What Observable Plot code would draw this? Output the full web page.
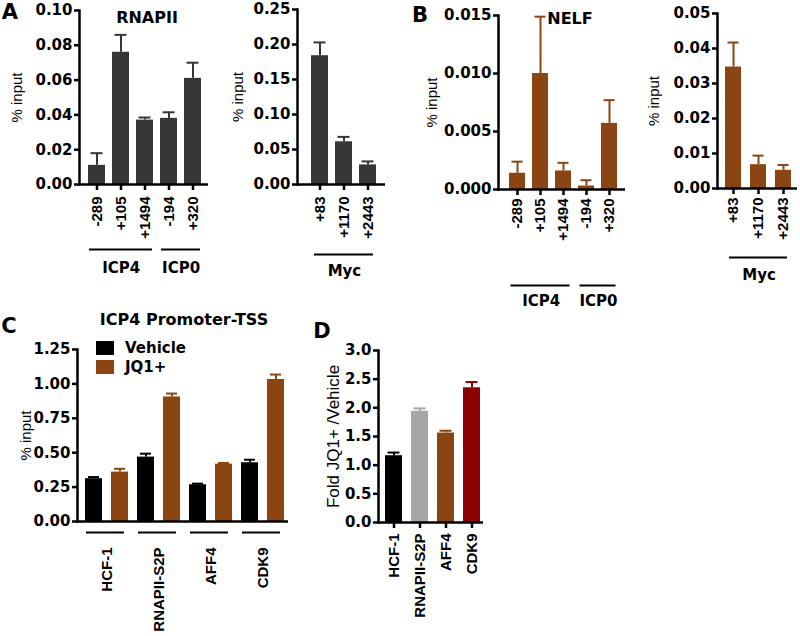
<!DOCTYPE html>
<html><head><meta charset="utf-8">
<script src="https://cdn.jsdelivr.net/npm/d3@7"></script>
<script src="https://cdn.jsdelivr.net/npm/@observablehq/plot@0.6"></script>
<style>
body{margin:0;background:#fff;}
#root{position:relative;width:800px;height:636px;overflow:hidden;background:#fff;}
#root svg{position:absolute;}
</style></head>
<body><div id="root"></div>
<script>
// ---------- DATA ----------
// Panel A (RNAPII)
const aCats = ["-289", "+105", "+1494", "-194", "+320"];
const aGenes = ["ICP4", "ICP4", "ICP4", "ICP0", "ICP0"];
const aVals = [0.011, 0.076, 0.037, 0.038, 0.061];
const aSems = [0.007, 0.010, 0.0015, 0.0035, 0.009];
const aMycCats = ["+83", "+1170", "+2443"];
const aMycGenes = ["Myc", "Myc", "Myc"];
const aMycVals = [0.184, 0.061, 0.028];
const aMycSems = [0.019, 0.007, 0.005];
// Panel B (NELF)
const bCats = ["-289", "+105", "+1494", "-194", "+320"];
const bGenes = ["ICP4", "ICP4", "ICP4", "ICP0", "ICP0"];
const bVals = [0.0014, 0.0100, 0.0016, 0.0003, 0.0057];
const bSems = [0.0010, 0.0049, 0.0007, 0.0005, 0.0020];
const bMycCats = ["+83", "+1170", "+2443"];
const bMycGenes = ["Myc", "Myc", "Myc"];
const bMycVals = [0.0347, 0.0068, 0.0052];
const bMycSems = [0.0070, 0.0026, 0.0015];
// Panel C (ICP4 Promoter-TSS)
const cFactors = ["HCF-1", "RNAPII-S2P", "AFF4", "CDK9"];
const cSeries = ["Vehicle", "JQ1+"];
const cVehicle = [0.311, 0.468, 0.267, 0.427];
const cVehicleSem = [0.012, 0.025, 0.008, 0.022];
const cJQ1 = [0.359, 0.905, 0.417, 1.032];
const cJQ1Sem = [0.024, 0.025, 0.008, 0.036];
// Panel D (fold JQ1+/Vehicle)
const dCats = ["HCF-1", "RNAPII-S2P", "AFF4", "CDK9"];
const dVals = [1.165, 1.94, 1.56, 2.35];
const dSems = [0.055, 0.05, 0.04, 0.10];
// tick values
const aTicks = [0, 0.02, 0.04, 0.06, 0.08, 0.10];
const aMycTicks = [0, 0.05, 0.10, 0.15, 0.20, 0.25];
const bTicks = [0, 0.005, 0.010, 0.015];
const bMycTicks = [0, 0.01, 0.02, 0.03, 0.04, 0.05];
const cTicks = [0, 0.25, 0.5, 0.75, 1.0, 1.25];
const dTicks = [0, 0.5, 1.0, 1.5, 2.0, 2.5, 3.0];

// ---------- STYLE ----------
const GRAY = "#363636";
const BROWN = "#8B4513";
const dColors = ["#000000", "#a6a6a6", "#8B4513", "#8B0000"];
const cColors = ["#000000", "#8B4513"];
const HFONT = "DejaVu Sans";
const VFONT = "Liberation Sans";

const root = document.getElementById("root");
function put(node, left, top) { node.style.left = left + "px"; node.style.top = top + "px"; root.appendChild(node); }
function txt(s, cx, cy, size, weight = "bold", family = HFONT) {
  const d = document.createElement("div");
  d.textContent = s;
  Object.assign(d.style, {position: "absolute", left: cx + "px", top: cy + "px", transform: "translate(-50%,-50%)",
    font: `${weight} ${size}px "${family}"`, lineHeight: "1", whiteSpace: "nowrap", color: "#000"});
  root.appendChild(d);
}

function yAxes(ticks, fmt, label, labelOffset, labelSize) {
  return [
    Plot.frame({anchor: "left", stroke: "#000", strokeWidth: 2.5}),
    Plot.axisY({ticks, tickFormat: d3.format(fmt), tickSize: 5, tickPadding: 2, strokeWidth: 2.5,
      fontFamily: HFONT, fontWeight: "bold", fontSize: 15, label: null}),
    Plot.axisY({ticks: [], tickSize: 0, label, labelAnchor: "center", labelArrow: "none", labelOffset,
      fontFamily: VFONT, fontWeight: "normal", fontSize: labelSize})
  ];
}

function barPanel(o) {
  const data = o.cats.map((c, i) => ({cat: c, v: o.vals[i], top: o.vals[i] + o.sems[i], group: o.groups[i]}));
  const bs = d3.scaleBand().domain(o.cats).range([o.ml, o.width - o.mr])
    .paddingInner(o.pi).paddingOuter(o.po).align(o.align);
  const step = bs.step();
  const gs = d3.groups(data, d => d.group).map(([g, arr]) => ({g, first: arr[0].cat, last: arr[arr.length - 1].cat, n: arr.length}));
  const plot = Plot.plot({
    width: o.width, height: o.height,
    marginLeft: o.ml, marginRight: o.mr, marginTop: o.mt, marginBottom: o.mb,
    style: {background: "transparent", overflow: "visible"},
    x: {type: "band", domain: o.cats, paddingInner: o.pi, paddingOuter: o.po, align: o.align, axis: null},
    y: {domain: [0, o.yMax], axis: null},
    marks: [
      Plot.ruleX(data, {x: "cat", y1: "v", y2: "top", stroke: o.color, strokeWidth: 2}),
      Plot.tickY(data, {x: "cat", y: "top", stroke: o.color, strokeWidth: 2, insetLeft: 2.5, insetRight: 2.5}),
      Plot.barY(data, {x: "cat", y: "v", fill: o.color}),
      Plot.ruleY([0], {stroke: "#000", strokeWidth: 2.5}),
      ...yAxes(o.ticks, o.fmt, "% input", o.labelOffset, 15),
      Plot.axisX({tickRotate: -90, tickSize: 6, tickPadding: o.tickPad, strokeWidth: 2.5,
        fontFamily: VFONT, fontWeight: "bold", fontSize: 15, label: null}),
      Plot.ruleY(gs, {x1: "first", x2: "last", y: () => 0, dy: o.lineDy, stroke: "#000", strokeWidth: 2,
        insetLeft: o.gInset, insetRight: o.gInset}),
      ...gs.map(g => Plot.text([g], {x: "first", y: () => 0, dx: (g.n - 1) * step / 2, dy: o.textDy, text: "g",
        lineAnchor: "middle", fontFamily: HFONT, fontWeight: "bold", fontSize: 15, fill: "#000"}))
    ]
  });
  put(plot, o.left, o.top);
  return plot;
}

// ---------- PANEL A ----------
barPanel({cats: aCats, groups: aGenes, vals: aVals, sems: aSems, color: GRAY, yMax: 0.10, ticks: aTicks, fmt: ".2f",
  left: 0, top: 0, width: 215, height: 285, ml: 79, mr: 7, mt: 10, mb: 101,
  pi: 0.3, po: 0.31, align: 0.55, tickPad: 6, lineDy: 65, textDy: 84, gInset: 1, labelOffset: 68});
barPanel({cats: aMycCats, groups: aMycGenes, vals: aMycVals, sems: aMycSems, color: GRAY, yMax: 0.25, ticks: aMycTicks, fmt: ".2f",
  left: 215, top: 0, width: 175, height: 285, ml: 82, mr: 5, mt: 9, mb: 101,
  pi: 0.3, po: 0.45, align: 0.62, tickPad: 6, lineDy: 70, textDy: 87, gInset: 3, labelOffset: 65});
// ---------- PANEL B ----------
barPanel({cats: bCats, groups: bGenes, vals: bVals, sems: bSems, color: BROWN, yMax: 0.015, ticks: bTicks, fmt: ".3f",
  left: 390, top: 0, width: 240, height: 315, ml: 108, mr: 5, mt: 15, mb: 126,
  pi: 0.3, po: 0.32, align: 0.56, tickPad: 3, lineDy: 96, textDy: 112, gInset: 1.5, labelOffset: 72});
barPanel({cats: bMycCats, groups: bMycGenes, vals: bMycVals, sems: bMycSems, color: BROWN, yMax: 0.05, ticks: bMycTicks, fmt: ".2f",
  left: 630, top: 0, width: 170, height: 290, ml: 87, mr: 3, mt: 13, mb: 102,
  pi: 0.35, po: 0.24, align: 0.55, tickPad: 3, lineDy: 69, textDy: 87, gInset: 4, labelOffset: 69});

// ---------- PANEL C ----------
(function () {
  const data = [];
  cFactors.forEach((f, i) => {
    data.push({key: f + "|" + cSeries[0], factor: f, series: cSeries[0], v: cVehicle[i], top: cVehicle[i] + cVehicleSem[i]});
    data.push({key: f + "|" + cSeries[1], factor: f, series: cSeries[1], v: cJQ1[i], top: cJQ1[i] + cJQ1Sem[i]});
  });
  const keys = data.map(d => d.key);
  const W = 295, ml = 77, mr = 7, pi = 0.35, po = 0.23, al = 0.66;
  const step = d3.scaleBand().domain(keys).range([ml, W - mr]).paddingInner(pi).paddingOuter(po).align(al).step();
  const gs = cFactors.map(f => ({g: f, first: f + "|" + cSeries[0], last: f + "|" + cSeries[1]}));
  const plot = Plot.plot({
    width: W, height: 306, marginLeft: ml, marginRight: mr, marginTop: 19, marginBottom: 115,
    style: {background: "transparent", overflow: "visible"},
    x: {type: "band", domain: keys, paddingInner: pi, paddingOuter: po, align: al, axis: null},
    y: {domain: [0, 1.25], axis: null},
    color: {domain: cSeries, range: cColors},
    marks: [
      Plot.ruleX(data, {x: "key", y1: "v", y2: "top", stroke: "series", strokeWidth: 2}),
      Plot.tickY(data, {x: "key", y: "top", stroke: "series", strokeWidth: 2, insetLeft: 3, insetRight: 3}),
      Plot.barY(data, {x: "key", y: "v", fill: "series"}),
      Plot.ruleY([0], {stroke: "#000", strokeWidth: 2.5}),
      ...yAxes(cTicks, ".2f", "% input", 57, 15),
      Plot.ruleY(gs, {x1: "first", x2: "last", y: () => 0, dy: 11, stroke: "#000", strokeWidth: 2, insetLeft: 1, insetRight: 4}),
      Plot.text(gs, {x: "first", y: () => 0, dx: step / 2, dy: 26, text: "g", rotate: -90, textAnchor: "end",
        lineAnchor: "middle", fontFamily: VFONT, fontWeight: "bold", fontSize: 15, fill: "#000"})
    ]
  });
  put(plot, 0, 330);
  // legend built from the plot's color scale
  const cs = plot.scale("color");
  const leg = document.createElement("div");
  Object.assign(leg.style, {position: "absolute", display: "flex", flexDirection: "column", gap: "5px"});
  cs.domain.forEach((name, i) => {
    const row = document.createElement("div");
    Object.assign(row.style, {display: "flex", alignItems: "center", height: "14px"});
    const sw = document.createElement("span");
    Object.assign(sw.style, {display: "inline-block", width: "18px", height: "14px", background: cs.range[i], marginRight: "11px"});
    const lb = document.createElement("span");
    lb.textContent = name;
    Object.assign(lb.style, {font: `bold 15px "${HFONT}"`, lineHeight: "1", color: "#000"});
    row.appendChild(sw); row.appendChild(lb);
    leg.appendChild(row);
  });
  put(leg, 96, 341);
})();

// ---------- PANEL D ----------
(function () {
  const data = dCats.map((c, i) => ({cat: c, v: dVals[i], top: dVals[i] + dSems[i]}));
  const plot = Plot.plot({
    width: 190, height: 306, marginLeft: 78, marginRight: 7, marginTop: 20, marginBottom: 114,
    style: {background: "transparent", overflow: "visible"},
    x: {type: "band", domain: dCats, paddingInner: 0.34, paddingOuter: 0.165, align: 0.74, axis: null},
    y: {domain: [0, 3], axis: null},
    color: {domain: dCats, range: dColors},
    marks: [
      Plot.ruleX(data, {x: "cat", y1: "v", y2: "top", stroke: "cat", strokeWidth: 2}),
      Plot.tickY(data, {x: "cat", y: "top", stroke: "cat", strokeWidth: 2, insetLeft: 2.5, insetRight: 2.5}),
      Plot.barY(data, {x: "cat", y: "v", fill: "cat"}),
      Plot.ruleY([0], {stroke: "#000", strokeWidth: 2.5}),
      ...yAxes(dTicks, ".1f", "Fold JQ1+ /Vehicle", 52, 17),
      Plot.axisX({tickRotate: -90, tickSize: 6, tickPadding: 5, strokeWidth: 2.5,
        fontFamily: VFONT, fontWeight: "bold", fontSize: 15, label: null})
    ]
  });
  put(plot, 300, 330);
})();

// ---------- TITLES & PANEL LETTERS ----------
txt("A", 10, 12, 21);
txt("B", 420, 15, 21);
txt("C", 9, 326, 21);
txt("D", 322, 331, 21);
txt("RNAPII", 147, 17.5, 16);
txt("NELF", 570, 18.5, 16);
txt("ICP4 Promoter-TSS", 184, 320, 16);
</script>
</body></html>
